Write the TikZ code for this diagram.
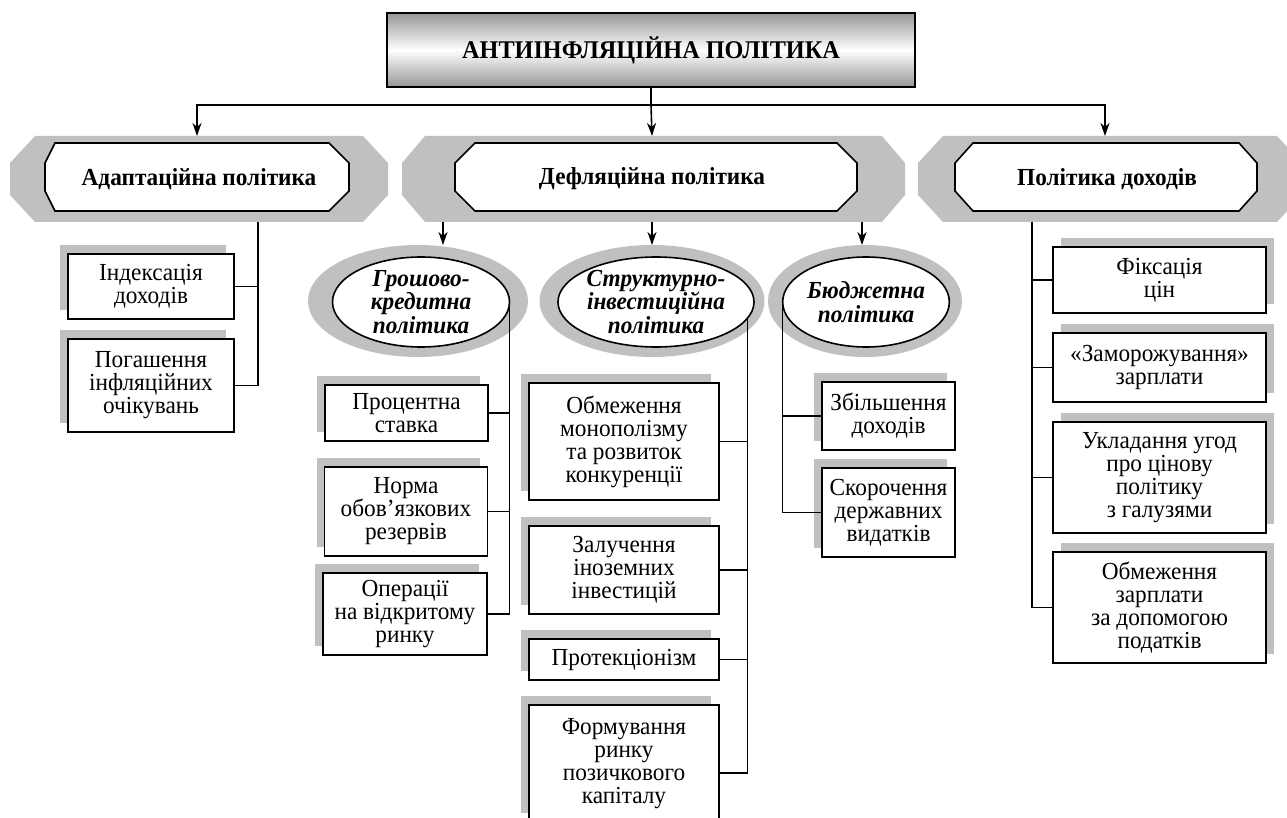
\documentclass[tikz,border=0pt]{standalone}
\usepackage{fontspec}
\setmainfont{Liberation Serif}[FakeStretch=0.95]
\usetikzlibrary{arrows.meta,shadows,calc,shapes.geometric}
\definecolor{shgray}{RGB}{192,192,192}
\definecolor{tgray}{RGB}{150,150,150}
% style, x1, y1, x2, y2, dx left, dx right, dy
\newcommand\octshape[8]{\path[#1] (#2,{#3+#8}) -- ({#2+#6},#3) -- ({#4-#7},#3) -- (#4,{#3+#8}) -- (#4,{#5-#8}) -- ({#4-#7},#5) -- ({#2+#6},#5) -- (#2,{#5-#8}) -- cycle;}
\begin{document}
\begin{tikzpicture}[x=1pt,y=-1pt,
  every node/.style={inner sep=0pt, outer sep=0pt},
  lw/.style={line width=1.6pt},
  txt/.style={font=\fontsize{24.5}{23}\selectfont, align=center},
  btxt/.style={font=\bfseries\fontsize{24.5}{23}\selectfont, align=center},
  ttxt/.style={font=\bfseries\fontsize{25.5}{23}\selectfont, align=center},
  etxt/.style={font=\bfseries\itshape\fontsize{24.5}{23.5}\selectfont, align=center},
  boxl/.style={txt, draw, lw, fill=white, drop shadow={shadow xshift=-8pt, shadow yshift=9pt, fill=shgray, opacity=1}},
  boxr/.style={txt, draw, lw, fill=white, drop shadow={shadow xshift=8pt, shadow yshift=9pt, fill=shgray, opacity=1}},
  grayell/.style={ellipse, fill=shgray, minimum height=112pt},
  whiteell/.style={etxt, ellipse, draw, lw, fill=white, minimum height=90pt},
  octbg/.style={fill=shgray},
  octfg/.style={draw, lw, fill=white},
  arr/.style={lw, -{Stealth[length=13pt,width=9pt,inset=4pt]}}
]
\useasboundingbox (0,0) rectangle (1287,818);

% title
\node[draw, line width=1.8pt, shade, top color=tgray, bottom color=tgray, middle color=white,
      minimum width=528pt, minimum height=74pt, ttxt] (title) at (651,50) {АНТИІНФЛЯЦІЙНА ПОЛІТИКА};
\coordinate (hl) at (651,105);

% octagons
\octshape{octbg}{10}{136}{388}{222}{25}{25}{27}
\octshape{octfg}{45}{143}{349}{211}{10}{20}{20}
\node[btxt, minimum width=378pt, minimum height=86pt] (adapt) at (199,179) {Адаптаційна політика};

\octshape{octbg}{402}{136}{905}{222}{23}{23}{27}
\octshape{octfg}{455}{143}{857}{211}{20}{20}{20}
\node[btxt, minimum width=503pt, minimum height=86pt] (defl) at (652,179) {Дефляційна політика};

\octshape{octbg}{918}{136}{1302}{222}{25}{25}{27}
\octshape{octfg}{955}{143}{1257}{211}{18}{18}{20}
\node[btxt, minimum width=374pt, minimum height=86pt] (doh) at (1107,179) {Політика доходів};

\draw[lw] (title.south) -- (hl);
\draw[arr] (hl) -- (defl.north);
\draw[arr] (hl) -| ([xshift=-2pt]adapt.north);
\draw[arr] (hl) -| ([xshift=-2pt]doh.north);

% ellipses
\node[grayell, minimum width=220pt] (gkg) at (418,301) {};
\node[whiteell, minimum width=177pt] (gk) at (421,302) {Грошово-\\кредитна\\політика};
\node[grayell, minimum width=225pt] (sig) at (652,301) {};
\node[whiteell, minimum width=188pt] (si) at (656,302) {Структурно-\\інвестиційна\\політика};
\node[grayell, minimum width=194pt] (bug) at (865,301) {};
\node[whiteell, minimum width=157pt] (bu) at (866,302) {Бюджетна\\політика};

\coordinate (da) at (443,222);
\coordinate (db) at (652,222);
\coordinate (dc) at (862,222);
\draw[arr] (da) -- (da |- gkg.north);
\draw[arr] (db) -- (db |- sig.north);
\draw[arr] (dc) -- (dc |- bug.north);

% left column
\node[boxl, minimum width=166pt, minimum height=65pt] (ind) at (151,286.5) {Індексація\\доходів};
\node[boxl, minimum width=166pt, minimum height=93pt] (pog) at (151,385.5) {Погашення\\інфляційних\\очікувань};
\coordinate (a1) at (258,222);
\draw[lw] (a1) |- (ind.east);
\draw[lw] (a1) |- (pog.east);

% monetary column
\node[boxl, minimum width=163pt, minimum height=56pt] (proc) at (406.5,413) {Процентна\\ставка};
\node[boxl, minimum width=163pt, minimum height=89pt] (norma) at (406,511.5) {Норма\\обов’язкових\\резервів};
\node[boxl, minimum width=164pt, minimum height=82pt] (oper) at (405,614) {Операції\\на відкритому\\ринку};
\draw[lw] (gk.east) |- (proc.east);
\draw[lw] (gk.east) |- (norma.east);
\draw[lw] (gk.east) |- (oper.east);

% structural column
\node[boxl, minimum width=190pt, minimum height=117pt] (obm) at (624,441.5) {Обмеження\\монополізму\\та розвиток\\конкуренції};
\node[boxl, minimum width=190pt, minimum height=88pt] (zal) at (624,570) {Залучення\\іноземних\\інвестицій};
\node[boxl, minimum width=190pt, minimum height=41pt] (prot) at (624,659.5) {Протекціонізм};
\node[boxl, minimum width=190pt, minimum height=117pt] (form) at (624,763.5) {Формування\\ринку\\позичкового\\капіталу};
\draw[lw] (si.-10) |- (obm.east);
\draw[lw] (si.-10) |- (zal.east);
\draw[lw] (si.-10) |- (prot.east);
\draw[lw] (si.-10) |- ([yshift=-9.5pt]form.east);

% budget column
\node[boxl, minimum width=133pt, minimum height=68pt] (zb) at (888.5,416) {Збільшення\\доходів};
\node[boxl, minimum width=133pt, minimum height=89pt] (sk) at (888.5,512.5) {Скорочення\\державних\\видатків};
\draw[lw] (bu.west) |- (zb.west);
\draw[lw] (bu.west) |- (sk.west);

% incomes column
\node[boxr, minimum width=213pt, minimum height=66pt] (fix) at (1159.5,280) {Фіксація\\цін};
\node[boxr, minimum width=213pt, minimum height=69pt] (zam) at (1159.5,367.5) {«Заморожування»\\зарплати};
\node[boxr, minimum width=213pt, minimum height=111pt] (ukl) at (1159.5,477.5) {Укладання угод\\про цінову\\політику\\з галузями};
\node[boxr, minimum width=213pt, minimum height=111pt] (obz) at (1159.5,607.5) {Обмеження\\зарплати\\за допомогою\\податків};
\coordinate (d1) at (1032,222);
\draw[lw] (d1) |- (fix.west);
\draw[lw] (d1) |- (zam.west);
\draw[lw] (d1) |- (ukl.west);
\draw[lw] (d1) |- (obz.west);
\end{tikzpicture}
\end{document}
